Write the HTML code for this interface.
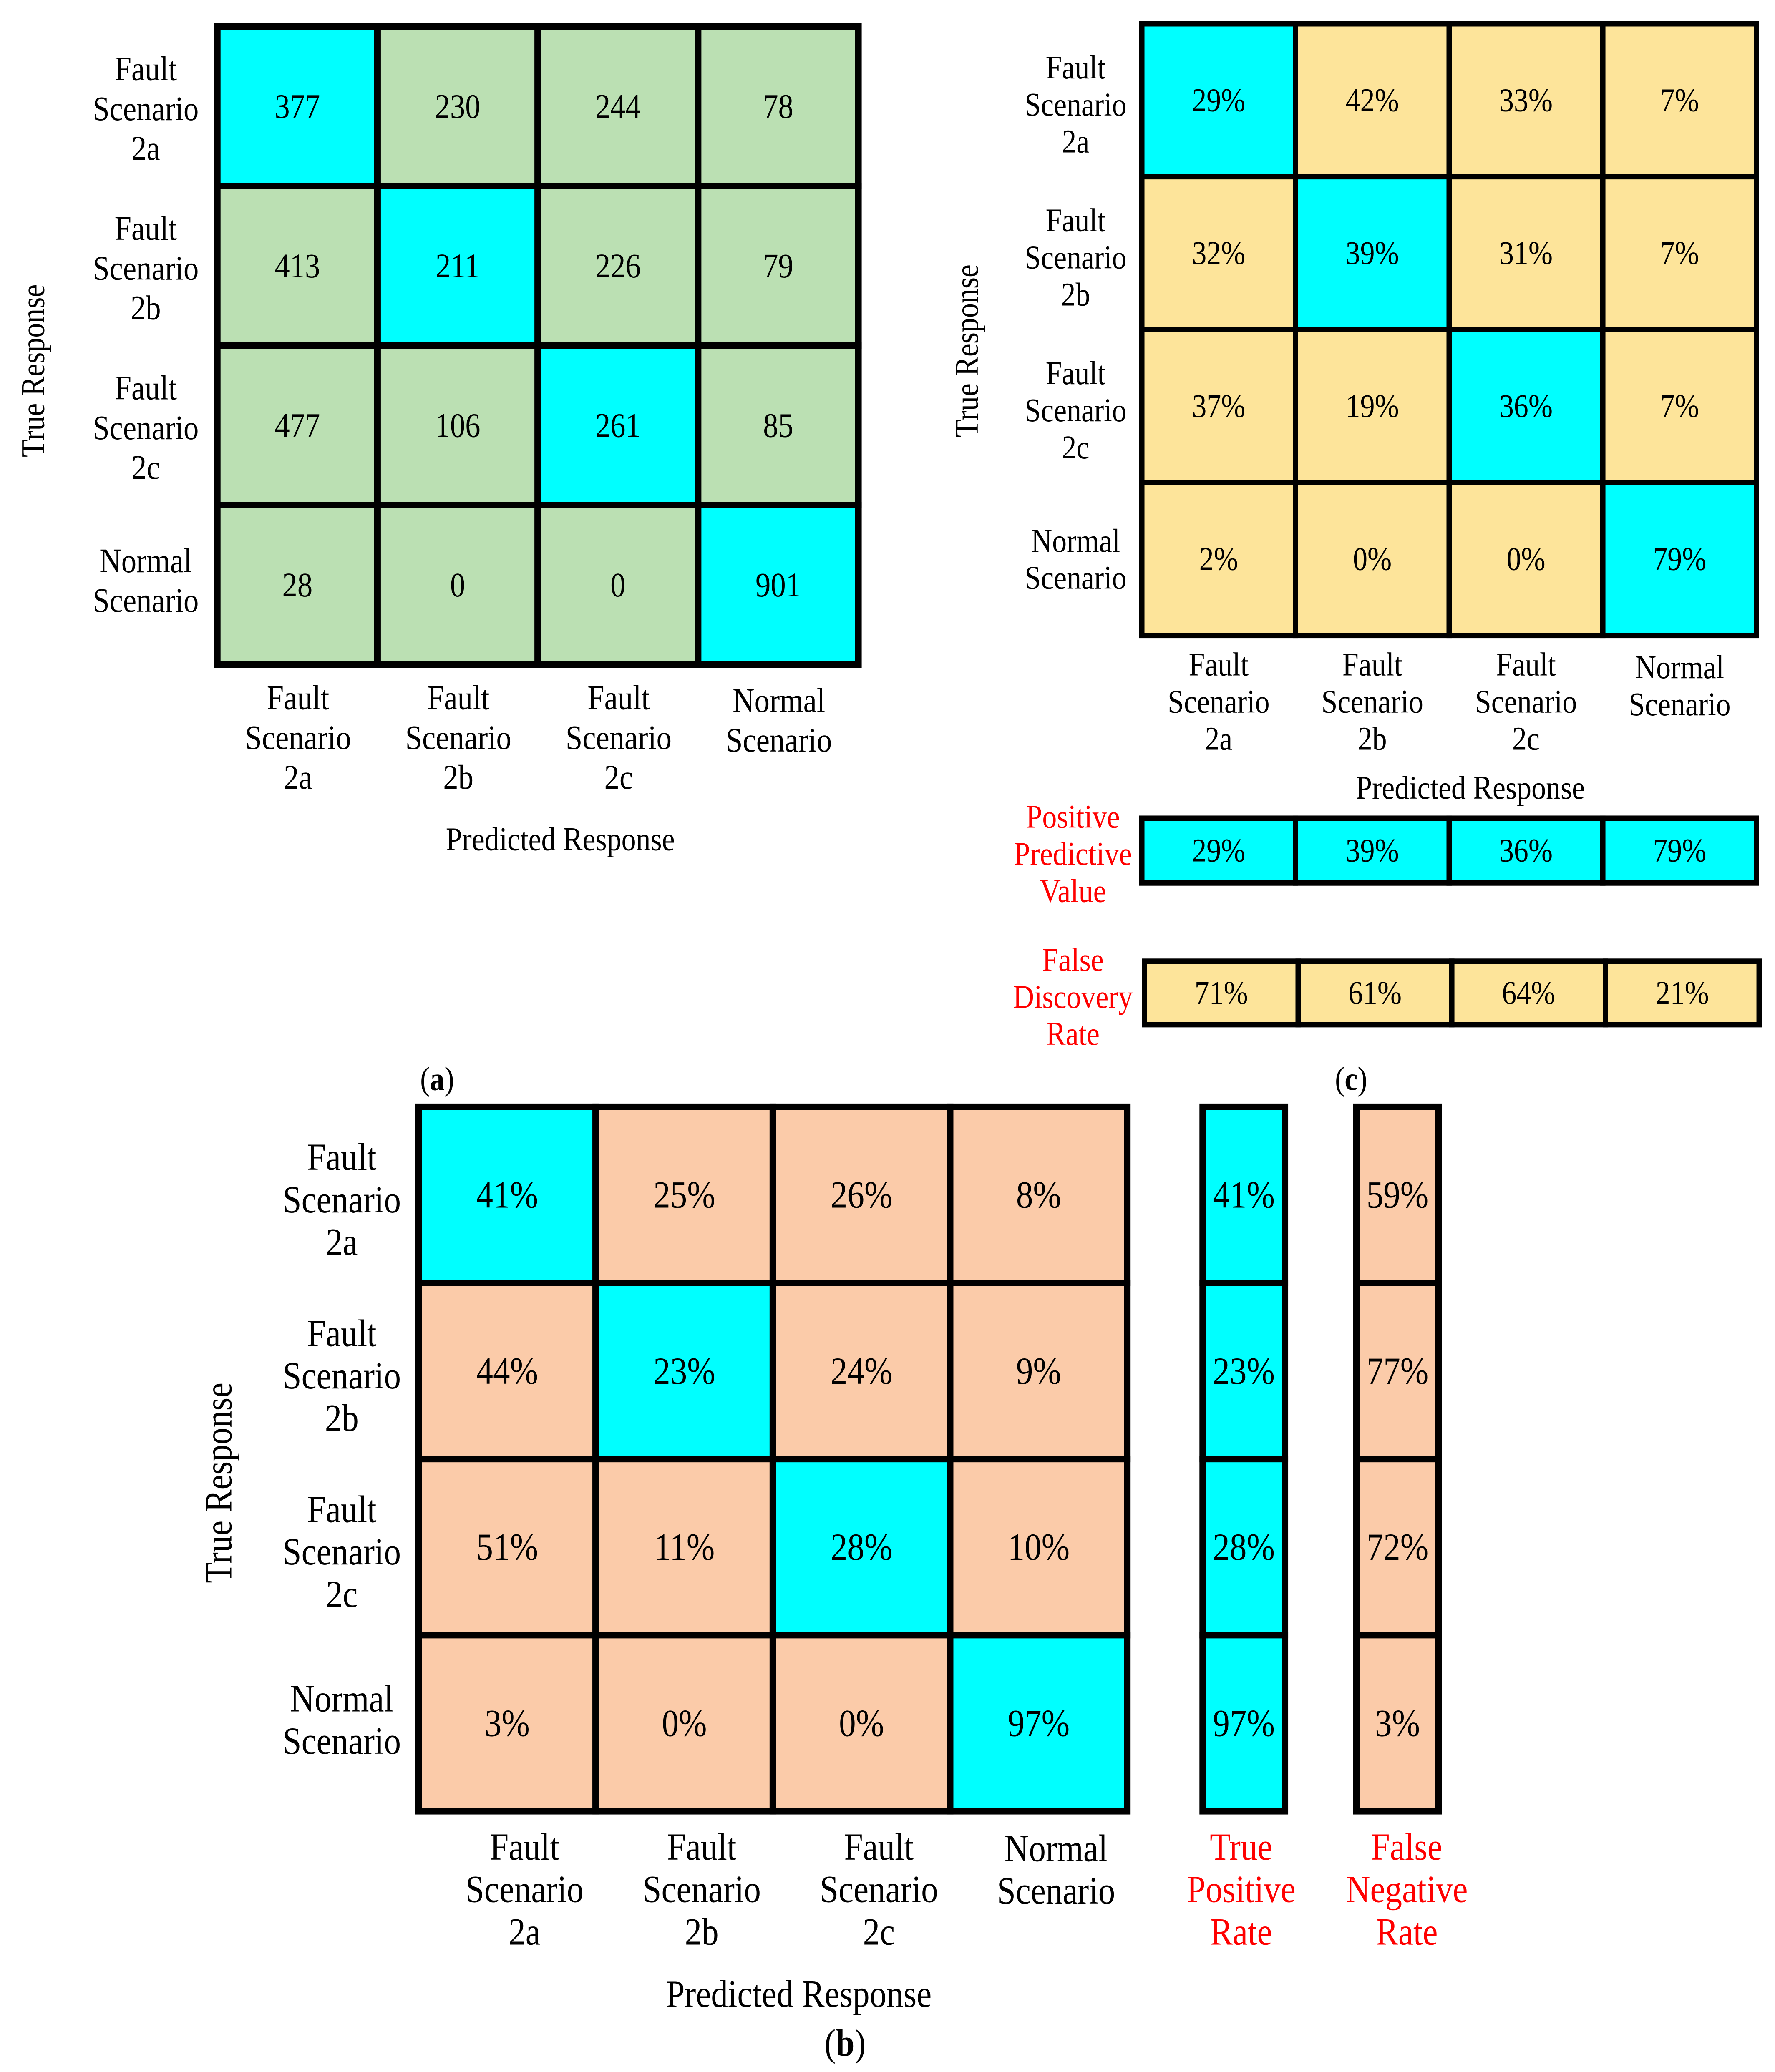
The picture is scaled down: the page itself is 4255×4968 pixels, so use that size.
<!DOCTYPE html>
<html><head><meta charset="utf-8"><style>
html,body{margin:0;padding:0;background:#fff;}
svg{display:block;font-family:"Liberation Serif",serif;}
</style></head><body>
<svg id="fig" width="4255" height="4968" viewBox="0 0 1340 1565" preserveAspectRatio="none" xmlns="http://www.w3.org/2000/svg"></svg>
<script>
const classLabels = [["Fault","Scenario","2a"],["Fault","Scenario","2b"],["Fault","Scenario","2c"],["Normal","Scenario"]];
const countsA = [[377,230,244,78],[413,211,226,79],[477,106,261,85],[28,0,0,901]];
const colPctC = [["29%","42%","33%","7%"],["32%","39%","31%","7%"],["37%","19%","36%","7%"],["2%","0%","0%","79%"]];
const ppv = ["29%","39%","36%","79%"];
const fdr = ["71%","61%","64%","21%"];
const rowPctB = [["41%","25%","26%","8%"],["44%","23%","24%","9%"],["51%","11%","28%","10%"],["3%","0%","0%","97%"]];
const tpr = ["41%","23%","28%","97%"];
const fnr = ["59%","77%","72%","3%"];

const NS="http://www.w3.org/2000/svg";
const svg=document.getElementById('fig');
const SX=0.88;
function el(tag,attrs,parent){const e=document.createElementNS(NS,tag);for(const k in attrs)e.setAttribute(k,attrs[k]);(parent||svg).appendChild(e);return e;}
function txt(x,y,s,size,color,parent,rot){
  const t=el('text',{x:0,y:0,'font-size':size,'font-family':'Liberation Serif, serif',fill:color||'#000','text-anchor':'middle','dominant-baseline':'central',
    transform:'translate('+x+' '+y+')'+(rot?' rotate('+rot+')':'')+' scale('+SX+' 1)'},parent);
  t.textContent=s;return t;}
const CY="#00FFFF";

function matrix(name,x0,y0,cw,ch,vals,bg,fs,sw){
  const g=el('g',{});
  
  
  for(let r=0;r<vals.length;r++)for(let c=0;c<vals[r].length;c++){
    const cell=el('g',{},g);
    
    
    el('rect',{x:x0+c*cw,y:y0+r*ch,width:cw,height:ch,fill:(r===c)?CY:bg,stroke:'#000','stroke-width':sw},cell);
    txt(x0+c*cw+cw/2,y0+r*ch+ch/2,String(vals[r][c]),fs,'#000',cell);
  }
}
function strip(name,x0,y0,cw,ch,vals,bg,fs,sw,vertical){
  const g=el('g',{});
  
  
  vals.forEach((v,i)=>{
    const x=vertical?x0:x0+i*cw, y=vertical?y0+i*ch:y0;
    const cell=el('g',{},g);
    
    
    el('rect',{x:x,y:y,width:cw,height:ch,fill:bg,stroke:'#000','stroke-width':sw},cell);
    txt(x+cw/2,y+ch/2,v,fs,'#000',cell);
  });
}
function multiline(name,x,yc,lines,lh,fs,color){
  const g=el('g',{});
  
  
  const y0=yc-(lines.length-1)*lh/2;
  lines.forEach((l,i)=>txt(x,y0+i*lh,l,fs,color,g));
}
function rotLabel(name,x,y,s,fs){
  const t=txt(x,y,s,fs,'#000',null,-90);
  
  
}
function plainLabel(name,x,y,s,fs,color){
  const t=txt(x,y,s,fs,color||'#000');
  
  
  return t;
}

// Panel (a)
matrix('matrix-a',164,20,121,120.5,countsA,'#BBE0B3',26,5);
classLabels.forEach((l,i)=>multiline('a-row-label-'+(i+1),110,20+120.5*i+62+(l.length===2?-5:0),l,30,26));
classLabels.forEach((l,i)=>multiline('a-col-label-'+(i+1),225+121*i,l.length===3?557:544,l,30,26));
plainLabel('a-x-axis-title',423,634,'Predicted Response',25);
rotLabel('a-y-axis-title',25,280,'True Response',25);

// Panel (c)
matrix('matrix-c',862,18,116,115.5,colPctC,'#FDE49A',25,4);
classLabels.forEach((l,i)=>multiline('c-row-label-'+(i+1),812,18+115.5*i+61+(l.length===2?-3:0),l,28,25));
classLabels.forEach((l,i)=>multiline('c-col-label-'+(i+1),920+116*i,l.length===3?530:518,l,28,25));
plainLabel('c-x-axis-title',1110,595,'Predicted Response',25);
rotLabel('c-y-axis-title',730,265,'True Response',25);
strip('ppv-strip',862,618,116,49,ppv,CY,25,4,false);
multiline('ppv-label',810,645,['Positive','Predictive','Value'],28,25,'#FF0000');
strip('fdr-strip',864,726,116,48,fdr,'#FDE49A',25,4,false);
multiline('fdr-label',810,753,['False','Discovery','Rate'],28,25,'#FF0000');
const la=plainLabel('panel-a-label',330,815,'',25);la.innerHTML='(<tspan font-weight="bold">a</tspan>)';
const lc=plainLabel('panel-c-label',1020,815,'',25);lc.innerHTML='(<tspan font-weight="bold">c</tspan>)';

// Panel (b)
matrix('matrix-b',316,836,133.75,133,rowPctB,'#FBCBA9',29,5);
classLabels.forEach((l,i)=>multiline('b-row-label-'+(i+1),258,836+133*i+70+(l.length===2?-6:0),l,32,29));
classLabels.forEach((l,i)=>multiline('b-col-label-'+(i+1),396+133.75*i,l.length===3?1427:1412,l,32,29));
plainLabel('b-x-axis-title',603,1506,'Predicted Response',29);
rotLabel('b-y-axis-title',165,1120,'True Response',29);
strip('tpr-strip',908,836,62,133,tpr,CY,29,5,true);
strip('fnr-strip',1024,836,62,133,fnr,'#FBCBA9',29,5,true);
multiline('tpr-label',937,1427,['True','Positive','Rate'],32,29,'#FF0000');
multiline('fnr-label',1062,1427,['False','Negative','Rate'],32,29,'#FF0000');
const lb=plainLabel('panel-b-label',638,1543,'',29);lb.innerHTML='(<tspan font-weight="bold">b</tspan>)';
</script>
</body></html>
